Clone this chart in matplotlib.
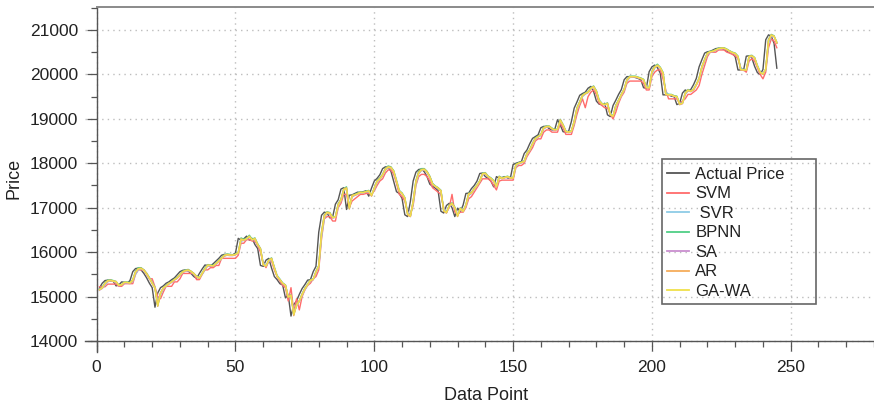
import numpy as np
import matplotlib
matplotlib.use("Agg")
import matplotlib.pyplot as plt
from matplotlib.patches import Rectangle
from matplotlib.ticker import MultipleLocator

plt.rcParams['font.family'] = ['Liberation Sans', 'DejaVu Sans']

# Closing prices and model forecasts for data points 1..245
actual = [
    15190, 15300, 15360, 15370, 15350, 15340, 15240, 15260, 15330, 15320,
    15300, 15360, 15560, 15630, 15640, 15600, 15520, 15420, 15300, 15200,
    14760, 15080, 15200, 15240, 15300, 15330, 15380, 15420, 15490, 15560,
    15590, 15600, 15570, 15520, 15450, 15410, 15520, 15620, 15710, 15700,
    15690, 15740, 15800, 15860, 15930, 15950, 15940, 15930, 15940, 15980,
    16310, 16270, 16300, 16360, 16270, 16310, 16170, 16080, 15700, 15680,
    15820, 15860, 15640, 15450, 15380, 15290, 15260, 14970, 15040, 14560,
    14820, 14900, 15050, 15180, 15270, 15370, 15380, 15560, 15680, 16450,
    16830, 16900, 16880, 16770, 16790, 17080, 17180, 17420, 17450, 16960,
    17280, 17290, 17320, 17350, 17340, 17360, 17380, 17260, 17440, 17600,
    17660, 17740, 17880, 17920, 17910, 17820, 17590, 17360, 17320, 17210,
    16840, 16800, 17140, 17600, 17800, 17860, 17870, 17810, 17700, 17530,
    17480, 17440, 17380, 16920, 16880, 17050, 17100, 17000, 16800, 16990,
    16910, 17060, 17320, 17330, 17430, 17500, 17600, 17770, 17780, 17700,
    17660, 17600, 17470, 17700, 17660, 17680, 17700, 17670, 17660, 17970,
    18000, 18020, 18040, 18220, 18300, 18440, 18560, 18600, 18640, 18800,
    18830, 18830, 18780, 18750, 18760, 18980, 18860, 18710, 18700, 18720,
    18940, 19240, 19380, 19530, 19570, 19600, 19690, 19730, 19620, 19400,
    19330, 19320, 19350, 19090, 19050, 19300, 19420, 19550, 19660, 19880,
    19950, 19950, 19950, 19930, 19910, 19880, 19700, 19690, 20060, 20170,
    20210, 20150, 20030, 19540, 19540, 19540, 19510, 19500, 19320, 19350,
    19580, 19650, 19620, 19660, 19770, 19910, 20170, 20330, 20480, 20510,
    20520, 20550, 20580, 20590, 20590, 20560, 20520, 20490, 20470, 20400,
    20100, 20100, 20090, 20410, 20420, 20370, 20180, 20040, 20000, 20110,
    20780, 20890, 20860, 20700, 20140,
]

svm = [
    15220, 15220, 15220, 15280, 15280, 15280, 15280, 15230, 15230, 15290,
    15290, 15290, 15290, 15500, 15600, 15600, 15600, 15500, 15400, 15400,
    15220, 15000, 14950, 15100, 15230, 15230, 15230, 15330, 15330, 15400,
    15520, 15520, 15520, 15520, 15520, 15380, 15380, 15500, 15600, 15600,
    15650, 15650, 15700, 15700, 15860, 15860, 15860, 15860, 15860, 15860,
    15930, 16200, 16200, 16280, 16280, 16250, 16250, 16150, 16000, 15750,
    15650, 15800, 15800, 15600, 15450, 15350, 15250, 15200, 14900, 15200,
    14650, 14950, 14700, 15000, 15150, 15250, 15300, 15400, 15450, 15600,
    16300, 16750, 16800, 16800, 16700, 16700, 17000, 17100, 17300, 17300,
    17000, 17150, 17200, 17250, 17300, 17300, 17320, 17320, 17300, 17380,
    17500, 17600, 17650, 17780, 17850, 17850, 17750, 17550, 17300, 17250,
    17150, 16900, 16850, 17050, 17500, 17700, 17750, 17750, 17700, 17600,
    17450, 17400, 17350, 17300, 17000, 16900, 17000, 17300, 16900, 16850,
    16900, 16900, 17000, 17200, 17250, 17350, 17450, 17550, 17650, 17650,
    17650, 17600, 17500, 17400, 17600, 17620, 17620, 17620, 17620, 17620,
    17900, 17950, 17950, 18000, 18150, 18250, 18350, 18500, 18550, 18550,
    18700, 18750, 18750, 18700, 18700, 18700, 18900, 18800, 18650, 18650,
    18650, 18850, 19100, 19300, 19450, 19250, 19500, 19600, 19650, 19550,
    19350, 19300, 19250, 19250, 19100, 19000, 19150, 19350, 19500, 19600,
    19800, 19850, 19850, 19850, 19850, 19850, 19800, 19650, 19650, 19950,
    20050, 20100, 20100, 19900, 19650, 19450, 19450, 19450, 19450, 19350,
    19400, 19450, 19550, 19550, 19600, 19650, 19750, 20000, 20200, 20400,
    20500, 20500, 20500, 20550, 20550, 20550, 20500, 20480, 20450, 20420,
    20350, 20150, 20100, 20050, 20300, 20350, 20300, 20150, 20000, 19900,
    20050, 20600, 20800, 20750, 20600,
]

svr = [
    15170, 15180, 15260, 15330, 15360, 15350, 15320, 15260, 15260, 15310,
    15310, 15300, 15340, 15500, 15600, 15630, 15600, 15530, 15430, 15320,
    15210, 14860, 15030, 15170, 15230, 15280, 15320, 15370, 15410, 15480,
    15540, 15580, 15590, 15560, 15510, 15450, 15420, 15500, 15600, 15690,
    15700, 15690, 15730, 15790, 15850, 15910, 15940, 15930, 15930, 15950,
    15970, 16240, 16270, 16290, 16340, 16280, 16300, 16190, 16080, 15760,
    15690, 15790, 15840, 15670, 15480, 15390, 15310, 15260, 15020, 15030,
    14660, 14790, 14890, 15030, 15160, 15260, 15350, 15380, 15530, 15670,
    16340, 16760, 16880, 16870, 16780, 16790, 17030, 17160, 17380, 17430,
    17050, 17240, 17280, 17310, 17340, 17340, 17350, 17360, 17290, 17410,
    17560, 17640, 17720, 17850, 17900, 17900, 17830, 17630, 17400, 17330,
    17230, 16910, 16820, 17090, 17530, 17760, 17840, 17860, 17800, 17700,
    17550, 17480, 17440, 17390, 16990, 16900, 17030, 17090, 17010, 16840,
    16960, 16920, 17040, 17270, 17320, 17410, 17490, 17590, 17740, 17770,
    17710, 17670, 17610, 17500, 17670, 17660, 17680, 17690, 17670, 17670,
    17920, 17990, 18010, 18040, 18190, 18290, 18420, 18540, 18590, 18630,
    18770, 18820, 18820, 18790, 18750, 18760, 18940, 18870, 18730, 18700,
    18720, 18900, 19190, 19350, 19500, 19560, 19590, 19670, 19720, 19630,
    19440, 19350, 19320, 19340, 19130, 19070, 19260, 19400, 19530, 19640,
    19840, 19930, 19950, 19950, 19930, 19910, 19880, 19730, 19700, 20000,
    20140, 20200, 20160, 20050, 19610, 19550, 19540, 19520, 19500, 19350,
    19350, 19540, 19630, 19620, 19650, 19760, 19880, 20130, 20300, 20450,
    20500, 20520, 20540, 20570, 20590, 20590, 20560, 20530, 20490, 20470,
    20410, 20150, 20100, 20100, 20370, 20410, 20370, 20210, 20060, 20010,
    20100, 20700, 20860, 20860, 20730,
]

bpnn = [
    15160, 15210, 15310, 15370, 15380, 15360, 15340, 15250, 15270, 15330,
    15330, 15310, 15380, 15570, 15650, 15650, 15600, 15520, 15420, 15310,
    15200, 14790, 15080, 15200, 15250, 15300, 15340, 15390, 15430, 15500,
    15570, 15600, 15610, 15570, 15520, 15460, 15420, 15530, 15640, 15720,
    15710, 15700, 15750, 15810, 15870, 15940, 15960, 15950, 15940, 15950,
    16000, 16320, 16290, 16310, 16380, 16290, 16320, 16180, 16080, 15710,
    15690, 15830, 15870, 15650, 15460, 15390, 15300, 15260, 14980, 15040,
    14590, 14820, 14910, 15060, 15190, 15280, 15380, 15390, 15570, 15700,
    16460, 16840, 16910, 16890, 16780, 16800, 17090, 17190, 17430, 17470,
    16980, 17280, 17300, 17330, 17360, 17350, 17370, 17390, 17270, 17450,
    17610, 17670, 17750, 17890, 17940, 17920, 17830, 17600, 17370, 17330,
    17220, 16850, 16810, 17150, 17610, 17820, 17880, 17880, 17820, 17710,
    17540, 17490, 17450, 17390, 16930, 16890, 17060, 17110, 17010, 16810,
    17000, 16920, 17070, 17330, 17340, 17440, 17510, 17610, 17780, 17790,
    17710, 17670, 17610, 17480, 17710, 17670, 17690, 17710, 17680, 17670,
    17980, 18010, 18030, 18050, 18230, 18310, 18450, 18570, 18610, 18650,
    18810, 18840, 18840, 18790, 18760, 18770, 18990, 18870, 18720, 18710,
    18730, 18950, 19250, 19390, 19540, 19580, 19610, 19700, 19740, 19630,
    19410, 19340, 19330, 19360, 19100, 19060, 19310, 19430, 19560, 19670,
    19890, 19960, 19960, 19960, 19940, 19920, 19890, 19710, 19700, 20070,
    20180, 20230, 20160, 20040, 19550, 19550, 19550, 19520, 19510, 19330,
    19360, 19590, 19660, 19630, 19670, 19780, 19920, 20180, 20340, 20490,
    20520, 20530, 20560, 20590, 20600, 20600, 20570, 20530, 20500, 20480,
    20410, 20110, 20110, 20100, 20420, 20430, 20380, 20190, 20050, 20010,
    20120, 20790, 20900, 20870, 20710,
]

sa = [
    15140, 15190, 15280, 15340, 15350, 15340, 15320, 15240, 15260, 15310,
    15300, 15290, 15350, 15530, 15610, 15620, 15580, 15500, 15400, 15290,
    15180, 14820, 15060, 15180, 15230, 15280, 15320, 15370, 15410, 15480,
    15540, 15570, 15580, 15550, 15500, 15440, 15410, 15510, 15610, 15690,
    15690, 15680, 15730, 15790, 15850, 15910, 15930, 15920, 15920, 15940,
    15980, 16270, 16260, 16290, 16340, 16270, 16290, 16160, 16060, 15730,
    15680, 15800, 15840, 15640, 15450, 15370, 15290, 15240, 15000, 15010,
    14620, 14790, 14890, 15030, 15160, 15260, 15350, 15380, 15540, 15680,
    16400, 16790, 16880, 16860, 16770, 16780, 17050, 17160, 17390, 17420,
    17010, 17250, 17280, 17300, 17330, 17330, 17350, 17360, 17270, 17420,
    17580, 17640, 17720, 17850, 17900, 17890, 17810, 17590, 17370, 17310,
    17210, 16880, 16800, 17120, 17570, 17770, 17840, 17850, 17790, 17680,
    17520, 17470, 17430, 17370, 16950, 16880, 17030, 17080, 16990, 16820,
    16970, 16910, 17050, 17290, 17320, 17410, 17490, 17590, 17750, 17760,
    17690, 17650, 17590, 17470, 17680, 17650, 17670, 17690, 17660, 17660,
    17950, 17990, 18010, 18030, 18200, 18290, 18420, 18540, 18590, 18630,
    18780, 18810, 18820, 18770, 18740, 18760, 18950, 18850, 18710, 18690,
    18710, 18920, 19220, 19360, 19510, 19560, 19590, 19670, 19710, 19610,
    19400, 19330, 19310, 19330, 19090, 19050, 19280, 19400, 19530, 19650,
    19860, 19930, 19940, 19940, 19920, 19900, 19870, 19700, 19690, 20040,
    20150, 20190, 20140, 20020, 19550, 19530, 19530, 19500, 19490, 19320,
    19340, 19560, 19630, 19610, 19650, 19760, 19890, 20150, 20310, 20460,
    20500, 20510, 20540, 20570, 20580, 20580, 20550, 20510, 20480, 20460,
    20390, 20100, 20090, 20090, 20390, 20400, 20360, 20180, 20040, 20000,
    20110, 20750, 20870, 20850, 20710,
]

ar = [
    15160, 15190, 15300, 15360, 15370, 15350, 15340, 15250, 15260, 15320,
    15320, 15300, 15360, 15560, 15630, 15640, 15600, 15520, 15420, 15300,
    15200, 14780, 15080, 15200, 15240, 15300, 15330, 15380, 15420, 15490,
    15560, 15590, 15600, 15570, 15520, 15450, 15410, 15520, 15620, 15710,
    15700, 15690, 15740, 15800, 15860, 15930, 15950, 15940, 15930, 15940,
    15980, 16300, 16270, 16300, 16360, 16270, 16310, 16170, 16080, 15710,
    15680, 15820, 15860, 15640, 15450, 15380, 15290, 15260, 14980, 15040,
    14570, 14820, 14900, 15050, 15180, 15270, 15370, 15380, 15560, 15680,
    16440, 16830, 16900, 16880, 16770, 16790, 17080, 17180, 17420, 17450,
    16970, 17280, 17290, 17320, 17350, 17340, 17360, 17380, 17260, 17440,
    17600, 17660, 17740, 17880, 17920, 17910, 17820, 17590, 17360, 17320,
    17210, 16840, 16800, 17140, 17600, 17800, 17860, 17870, 17810, 17700,
    17530, 17480, 17440, 17380, 16920, 16880, 17050, 17100, 17000, 16800,
    16990, 16910, 17060, 17320, 17330, 17430, 17500, 17600, 17770, 17780,
    17700, 17660, 17600, 17470, 17700, 17660, 17680, 17700, 17670, 17660,
    17970, 18000, 18020, 18040, 18220, 18300, 18440, 18560, 18600, 18640,
    18800, 18830, 18830, 18780, 18750, 18760, 18980, 18860, 18710, 18700,
    18720, 18940, 19240, 19380, 19530, 19570, 19600, 19690, 19730, 19620,
    19400, 19330, 19320, 19350, 19090, 19050, 19300, 19420, 19550, 19660,
    19880, 19950, 19950, 19950, 19930, 19910, 19880, 19700, 19690, 20060,
    20170, 20210, 20150, 20030, 19540, 19540, 19540, 19510, 19500, 19320,
    19350, 19580, 19650, 19620, 19660, 19770, 19910, 20170, 20330, 20480,
    20510, 20520, 20550, 20580, 20590, 20590, 20560, 20520, 20490, 20470,
    20400, 20100, 20100, 20090, 20410, 20420, 20370, 20180, 20040, 20000,
    20110, 20780, 20890, 20860, 20700,
]

ga_wa = [
    15150, 15200, 15290, 15350, 15360, 15345, 15330, 15250, 15270, 15320,
    15315, 15305, 15370, 15550, 15620, 15630, 15590, 15510, 15410, 15300,
    15190, 14800, 15070, 15190, 15240, 15290, 15330, 15380, 15420, 15490,
    15550, 15580, 15590, 15560, 15510, 15450, 15420, 15520, 15620, 15700,
    15700, 15690, 15740, 15800, 15860, 15920, 15940, 15930, 15930, 15950,
    15990, 16280, 16270, 16300, 16350, 16280, 16300, 16170, 16070, 15720,
    15690, 15810, 15850, 15650, 15460, 15380, 15300, 15250, 14990, 15020,
    14600, 14800, 14900, 15040, 15170, 15270, 15360, 15390, 15550, 15690,
    16420, 16800, 16890, 16870, 16780, 16790, 17060, 17170, 17400, 17430,
    17000, 17260, 17290, 17310, 17340, 17340, 17360, 17370, 17280, 17430,
    17590, 17650, 17730, 17860, 17910, 17900, 17820, 17600, 17380, 17320,
    17220, 16870, 16810, 17130, 17580, 17780, 17850, 17860, 17800, 17690,
    17530, 17480, 17440, 17380, 16940, 16890, 17040, 17090, 17000, 16820,
    16980, 16920, 17060, 17300, 17330, 17420, 17500, 17600, 17760, 17770,
    17700, 17660, 17600, 17480, 17690, 17660, 17680, 17700, 17670, 17670,
    17960, 18000, 18020, 18040, 18210, 18300, 18430, 18550, 18600, 18640,
    18790, 18820, 18830, 18780, 18750, 18770, 18960, 18860, 18720, 18700,
    18720, 18930, 19230, 19370, 19520, 19570, 19600, 19680, 19720, 19620,
    19410, 19340, 19320, 19340, 19100, 19060, 19290, 19410, 19540, 19660,
    19870, 19940, 19950, 19950, 19930, 19910, 19880, 19710, 19700, 20050,
    20160, 20200, 20150, 20030, 19560, 19540, 19540, 19510, 19500, 19330,
    19350, 19570, 19640, 19620, 19660, 19770, 19900, 20160, 20320, 20470,
    20510, 20520, 20550, 20580, 20590, 20590, 20560, 20520, 20490, 20470,
    20400, 20110, 20100, 20100, 20400, 20410, 20370, 20190, 20050, 20010,
    20120, 20760, 20880, 20860, 20720,
]

labels = ["Actual Price", "SVM", " SVR", "BPNN", "SA", "AR", "GA-WA"]
colors = ["#555555", "#ff6b6b", "#8ecbe6", "#4fcf86", "#c98fcf", "#f6ad5a", "#f0e04a"]
series = [actual, svm, svr, bpnn, sa, ar, ga_wa]

x_ticks = [0, 50, 100, 150, 200, 250]
y_ticks = [14000, 15000, 16000, 17000, 18000, 19000, 20000, 21000]

W, H = 874, 404
fig = plt.figure(figsize=(W / 100, H / 100), dpi=100)
ax = fig.add_axes([85 / W, 1 - 352 / H, (W - 85) / W, (352 - 6.7) / H])

x = np.arange(1, len(actual) + 1)
for vals, lab, col in zip(series, labels, colors):
    ax.plot(x, vals, color=col, lw=1.0, label=lab)

ax.set_xlim(-4.2, 280)
ax.set_ylim(13752, 21524)

ax.set_xticks(x_ticks)
ax.set_yticks(y_ticks)
ax.xaxis.set_minor_locator(MultipleLocator(10))
ax.yaxis.set_minor_locator(MultipleLocator(500))

axis_col = "#555555"
ax.spines['right'].set_visible(False)
ax.spines['left'].set_position(('data', 0))
ax.spines['bottom'].set_position(('data', 14000))
ax.spines['top'].set_bounds(0, 280)
for s in ['left', 'bottom']:
    ax.spines[s].set_color(axis_col)
    ax.spines[s].set_linewidth(1.0)
ax.spines['top'].set_color('#8a8a8a')
ax.spines['top'].set_linewidth(1.4)

ax.tick_params(axis='both', which='major', direction='out', length=7.5,
               width=0.9, color=axis_col, labelsize=12.5, labelcolor='#222222')
ax.tick_params(axis='both', which='minor', direction='out', length=4.5,
               width=0.9, color=axis_col)
ax.tick_params(axis='y', pad=6)
ax.tick_params(axis='x', pad=6)
ax.tick_params(top=False, right=False, which='both')

ax.grid(True, which='major', color='#bdbdbd', linestyle=(0, (1, 3)), lw=1.0)
ax.set_axisbelow(True)

ax.set_xlabel("Data Point", fontsize=13, color='#222222')
ax.set_ylabel("Price", fontsize=13, color='#222222')
ax.xaxis.label.set_va('center')
ax.yaxis.label.set_va('center')
ax.xaxis.set_label_coords((486 - 85) / (W - 85), -(395 - 352) / (352 - 6.7))
ax.yaxis.set_label_coords((14 - 85) / (W - 85), (352 - 178) / (352 - 6.7))

leg = ax.legend(loc='upper left', bbox_to_anchor=(667 / W, 1 - 167 / H),
                bbox_transform=fig.transFigure, frameon=False, fontsize=12,
                handlelength=1.3, handletextpad=0.4, labelspacing=0.27,
                borderpad=0.0, borderaxespad=0.0)
for line in leg.get_lines():
    line.set_linewidth(1.3)
for t in leg.get_texts():
    t.set_color('#222222')

# Legend frame drawn as a separate box in figure pixels
fig.patches.append(Rectangle((662 / W, 1 - 304 / H), (816 - 662) / W, (304 - 159) / H,
                             transform=fig.transFigure, fill=False,
                             edgecolor='#666666', lw=1.2, zorder=5))

fig.savefig("out.png", dpi=100)
